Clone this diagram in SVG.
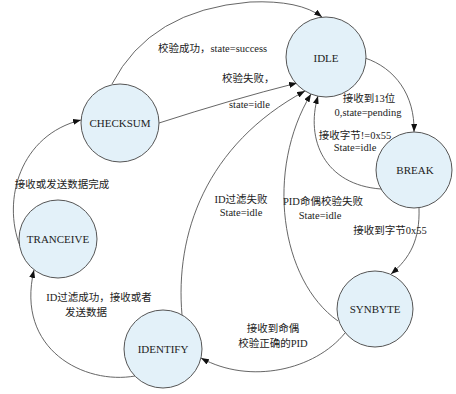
<svg xmlns="http://www.w3.org/2000/svg" width="456" height="394" viewBox="0 0 456 394">
<style>
.node{fill:#e3f1f9;stroke:#555;stroke-width:1}
.nl{font-family:"Liberation Serif","Noto Sans CJK SC",serif;font-size:11px;fill:#222;text-anchor:middle;dominant-baseline:central}
.lb{font-family:"Liberation Serif","Noto Sans CJK SC",serif;font-size:10.5px;fill:#222}
.c{text-anchor:middle}
.e{fill:none;stroke:#555;stroke-width:0.9;marker-end:url(#arr)}
</style>
<defs>
<marker id="arr" markerUnits="userSpaceOnUse" markerWidth="8" markerHeight="6" refX="8" refY="3" orient="auto">
<path d="M0,0 L8,3 L0,6 z" fill="#111"/>
</marker>
</defs>
<rect width="456" height="394" fill="#fff"/>
<g id="connectors">
<path class="e" d="M112,84 Q150,10 250,2 Q300,0 322,17"/>
<path class="e" d="M159,123 Q230,100 297,83"/>
<path class="e" d="M182,315 C175,235 205,145 305,91"/>
<path class="e" d="M338,321 C280,280 265,170 311,94"/>
<path class="e" d="M365,58 C395,68 415,95 414,132"/>
<path class="e" d="M381,189 C325,185 305,140 318,96"/>
<path class="e" d="M419,208 C420,240 410,258 391,274"/>
<path class="e" d="M345,333 C315,370 250,385 201,358"/>
<path class="e" d="M135,376 C85,385 15,350 34,270"/>
<path class="e" d="M20,246 C2,200 20,135 81,120"/>
</g>
<g id="labels">
<text class="lb" x="158" y="52">校验成功，state=success</text>
<text class="lb" x="222" y="82">校验失败，</text>
<text class="lb" x="229" y="108">state=idle</text>
<text class="lb c" x="369" y="102">接收到13位</text>
<text class="lb c" x="368" y="116">0,state=pending</text>
<text class="lb c" x="355" y="139">接收字节!=0x55</text>
<text class="lb c" x="355" y="151">State=idle</text>
<text class="lb c" x="241" y="203">ID过滤失败</text>
<text class="lb c" x="241" y="216">State=idle</text>
<text class="lb c" x="323" y="205">PID命偶校验失败</text>
<text class="lb c" x="320" y="219">State=idle</text>
<text class="lb c" x="390" y="234">接收到字节0x55</text>
<text class="lb c" x="273" y="332">接收到命偶</text>
<text class="lb c" x="273" y="347">校验正确的PID</text>
<text class="lb c" x="99" y="301">ID过滤成功，接收或者</text>
<text class="lb c" x="86" y="316">发送数据</text>
<text class="lb c" x="62" y="188">接收或发送数据完成</text>
</g>
<g id="IDLE"><circle class="node" cx="326" cy="57" r="40"/><text class="nl" x="326" y="58">IDLE</text></g>
<g id="BREAK"><circle class="node" cx="414" cy="170" r="38"/><text class="nl" x="415" y="170">BREAK</text></g>
<g id="SYNBYTE"><circle class="node" cx="375" cy="309" r="38"/><text class="nl" x="375" y="309">SYNBYTE</text></g>
<g id="IDENTIFY"><circle class="node" cx="163" cy="349" r="39"/><text class="nl" x="163" y="349">IDENTIFY</text></g>
<g id="TRANCEIVE"><circle class="node" cx="58" cy="239" r="39"/><text class="nl" x="58" y="239">TRANCEIVE</text></g>
<g id="CHECKSUM"><circle class="node" cx="120" cy="123" r="39"/><text class="nl" x="120" y="123">CHECKSUM</text></g>
</svg>
